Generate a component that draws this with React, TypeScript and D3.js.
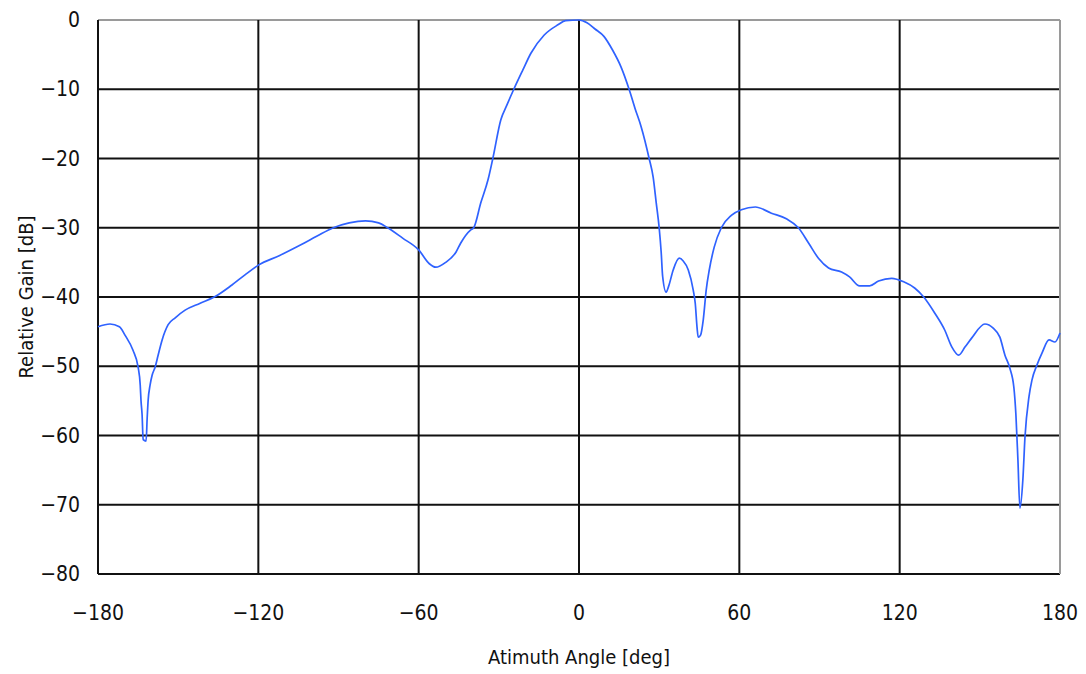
import React from "react";
import * as d3 from "d3";

const angles: number[] = [
  -180, -175.5, -172, -169.9, -166.9, -165, -164.2, -163.9, -163.5, -163.1, -162, -161.6, -161.25, -160.5,
  -159.75, -158.6, -157.5, -156, -153.75, -151.1, -147.4, -141.75, -136, -130, -125, -120, -112, -104.25,
  -98, -91.9, -86, -79.9, -75, -71.6, -66, -60, -56, -53.6, -49.9, -46, -44.25, -40.5, -39.4, -36.75, -34,
  -32.25, -29.25, -27, -24.4, -21, -18, -13.1, -7.9, -5, 0, 3, 6, 9.4, 12.5, 15.75, 18.75, 21, 23.25, 26.25,
  27.75, 28.9, 30, 30.75, 31.3, 32.6, 33.5, 35.25, 37.5, 39, 40.9, 42.75, 43.5, 44.2, 44.6, 45.5, 46.5, 47.6,
  48.75, 50.6, 53.25, 57, 60.75, 66, 72, 77.6, 82.1, 85.9, 89.6, 93.4, 98.25, 101.25, 105, 108.75, 112.1,
  117, 121.5, 125.6, 129, 133.1, 136.9, 139.5, 142.1, 144.5, 147, 151.9, 155, 157.5, 159.4, 161.25, 162.75,
  163.5, 164.25, 165, 166.1, 166.9, 168.4, 169.5, 171.4, 173.25, 175.9, 178.1, 180,
];

const gains: number[] = [
  -44.3, -43.9, -44.3, -45.5, -47.7, -50.1, -52.7, -55, -57, -60.6, -60.8, -57.5, -55, -52.7,
  -51.3, -50.1, -48.4, -46.2, -44, -43, -41.9, -40.9, -39.9, -38.3, -36.8, -35.4, -34, -32.5,
  -31.2, -30, -29.3, -29, -29.3, -30, -31.5, -33.2, -35.2, -35.7, -35, -33.5, -32.2, -30.3, -30, -26.4, -23,
  -20, -14.4, -12.3, -10, -7.2, -4.8, -2.2, -0.7, -0.1, 0, -0.4, -1.3, -2.4, -4.3, -6.8, -10, -12.8, -15.4, -20,
  -22.7, -26.4, -30, -33.5, -37, -39.3, -38.5, -36.1, -34.4, -34.8, -36.1, -39, -40.9, -44.5, -45.8, -45.5, -43.3, -39,
  -36.1, -32.8, -30, -28.2, -27.4, -27, -27.9, -28.7, -30, -32.2, -34.4, -35.8, -36.4, -37.1, -38.4, -38.4, -37.7,
  -37.3, -37.8, -38.7, -40, -42.3, -44.8, -47.2, -48.4, -47.2, -45.9, -43.9, -44.5, -45.8, -48.4, -50.3, -53.1,
  -57, -63.5, -70.5, -66.4, -60.2, -54.4, -52, -49.8, -48.1, -46.2, -46.5, -45.2,
];

const xTicks: number[] = [-180, -120, -60, 0, 60, 120, 180];
const yTicks: number[] = [0, -10, -20, -30, -40, -50, -60, -70, -80];
const xTitle = "Atimuth Angle [deg]";
const yTitle = "Relative Gain [dB]";

const W = 1086;
const H = 674;
const left = 98;
const right = 1060;
const top = 20;
const bottom = 574;
const font = "'Liberation Sans Narrow', 'DejaVu Sans Condensed', 'Liberation Sans', sans-serif";

export default function App() {
  const x = d3.scaleLinear().domain([-180, 180]).range([left, right]);
  const y = d3.scaleLinear().domain([-80, 0]).range([bottom, top]);
  const data = angles.map((a, i) => [a, gains[i]] as [number, number]);
  const line = d3
    .line<[number, number]>()
    .x((d) => x(d[0]))
    .y((d) => y(d[1]))
    .curve(d3.curveMonotoneX);
  const fmt = (v: number) => (v < 0 ? "\u2212" + Math.abs(v) : String(v));

  return (
    <svg width={W} height={H} style={{ position: "absolute", left: 0, top: 0, background: "#fff" }}>
      <rect x={0} y={0} width={W} height={H} fill="#fff" />
      {/* horizontal gridlines */}
      {yTicks.map((t) => (
        <line
          key={"h" + t}
          x1={left}
          x2={right}
          y1={y(t)}
          y2={y(t)}
          stroke={t === 0 ? "#9a9a9a" : "#111"}
          strokeWidth={2}
        />
      ))}
      {/* vertical gridlines */}
      {xTicks.map((t) => (
        <line
          key={"v" + t}
          x1={x(t)}
          x2={x(t)}
          y1={top}
          y2={bottom}
          stroke={t === 180 ? "#9a9a9a" : "#111"}
          strokeWidth={2}
        />
      ))}
      <path d={line(data) || ""} fill="none" stroke="#2f62ff" strokeWidth={1.7} strokeLinejoin="round" />
      {yTicks.map((t) => (
        <text
          key={"yl" + t}
          x={80}
          y={y(t)}
          textAnchor="end"
          dominantBaseline="central"
          fontFamily={font}
          fontSize={21}
          fill="#111"
        >
          {fmt(t)}
        </text>
      ))}
      {xTicks.map((t) => (
        <text
          key={"xl" + t}
          x={x(t)}
          y={613}
          textAnchor="middle"
          dominantBaseline="central"
          fontFamily={font}
          fontSize={21}
          fill="#111"
        >
          {fmt(t)}
        </text>
      ))}
      <text
        x={(left + right) / 2}
        y={657}
        textAnchor="middle"
        dominantBaseline="central"
        fontFamily={font}
        fontSize={20}
        fill="#111"
      >
        {xTitle}
      </text>
      <text
        transform={`translate(26,${(top + bottom) / 2}) rotate(-90)`}
        textAnchor="middle"
        dominantBaseline="central"
        fontFamily={font}
        fontSize={20}
        fill="#111"
      >
        {yTitle}
      </text>
    </svg>
  );
}
